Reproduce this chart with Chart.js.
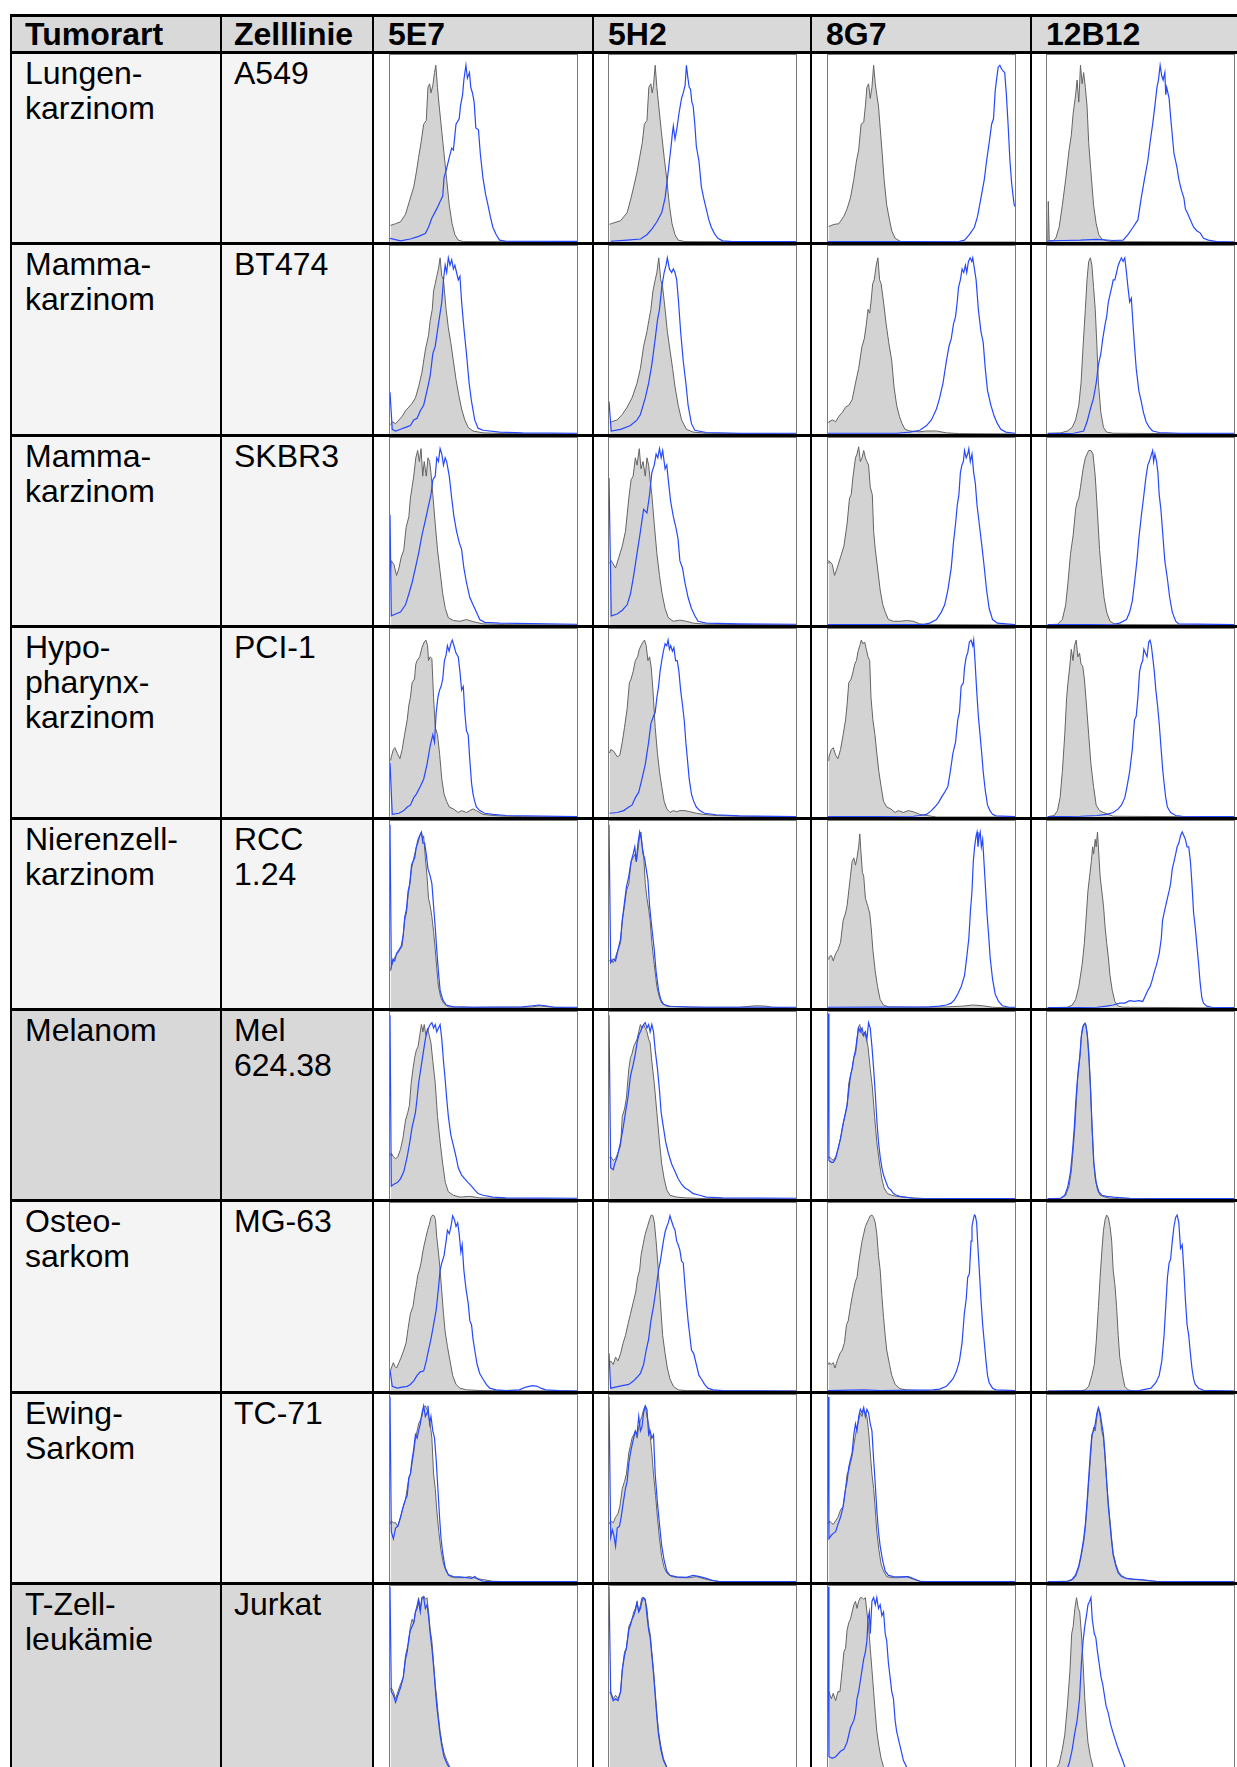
<!DOCTYPE html>
<html><head><meta charset="utf-8">
<script src="https://cdn.jsdelivr.net/npm/chart.js@4.4.1/dist/chart.umd.min.js"></script>
<style>
html,body{margin:0;padding:0;background:#fff;}
body{width:1237px;height:1767px;overflow:hidden;position:relative;font-family:"Liberation Sans",Arial,sans-serif;}
.box{position:absolute;box-sizing:border-box;}
.txt{position:absolute;font-size:32px;line-height:35px;color:#000;white-space:pre;}
.hdr{font-weight:bold;}
canvas{position:absolute;display:block;}
</style></head><body>
<script>
// ---------- table text ----------
const headerLabels = ["Tumorart", "Zelllinie"];
const antibodies = ["5E7", "5H2", "8G7", "12B12"];
const tumorTypes = ["Lungen-\nkarzinom","Mamma-\nkarzinom","Mamma-\nkarzinom","Hypo-\npharynx-\nkarzinom","Nierenzell-\nkarzinom","Melanom","Osteo-\nsarkom","Ewing-\nSarkom","T-Zell-\nleukämie"];
const cellLines = ["A549","BT474","SKBR3","PCI-1","RCC\n1.24","Mel\n624.38","MG-63","TC-71","Jurkat"];

// ---------- histogram values: [fluorescence position (% of axis), count (% of axis)] ----------
// iso = isotype control (grey filled), ab = antibody (blue line)
const iso_A549_5E7=[[0.3,8.9],[3,9.8],[5.6,10.8],[8.3,14.8],[10.9,23.6],[12.7,29.5],[14.1,37.4],[15.3,45.3],[16.6,53.1],[18,63],[19.4,65],[20.3,82.7],[21.2,84.6],[21.9,79.7],[22.9,83.7],[23.8,90.6],[24.5,94.5],[25.4,82.7],[26.3,72.8],[27.7,59],[28.9,47.2],[30.3,33.5],[31.7,19.7],[33.2,9.8],[34.7,3.9],[36.5,1],[39.2,0.2],[100,0]];
const ab_A549_5E7=[[0,2],[5.6,0.6],[10.9,1.6],[15.3,3],[18.9,4.5],[20.6,7.9],[22.4,12.8],[25,17.7],[26.8,21.7],[28.2,24.6],[28.9,34.4],[30.3,39.4],[31.7,45.3],[33,50.2],[33.9,49.2],[35.3,63],[37,65.9],[37.7,72.8],[38.8,78.7],[39.5,86.6],[40.6,94.5],[41.4,87.6],[42.5,90.6],[43.2,82.7],[44.1,79.7],[45,74.8],[45.9,61],[47.3,60],[48.3,47.2],[49.7,34.4],[51.1,25.6],[52.4,19.7],[53.6,13.8],[55,7.9],[56.8,3.9],[58.6,1],[62.1,0.4],[100,0.3]];
const iso_A549_5H2=[[0.3,9.5],[1.2,9.8],[6.2,11.4],[9.7,15.7],[11.8,23.6],[13.2,29.5],[15,37.4],[16.4,45.3],[17.8,53.1],[18.9,63],[20.3,65],[21.3,82.7],[22.4,84.6],[23.1,79.7],[23.8,83.7],[24.7,94.5],[25.6,82.7],[26.6,72.8],[28,59],[29.5,45.3],[30.9,33.5],[32.3,19.7],[33.7,9.8],[35.3,3.9],[37,1],[40.6,0.2],[100,0]];
const ab_A549_5H2=[[0.9,0.4],[9.7,1],[16.8,1.6],[20.3,3.9],[22.9,6.9],[25.6,10.8],[28.2,15.7],[30,23.6],[31.2,33.5],[32.3,43.3],[33.2,51.2],[33.9,58.1],[34.4,62],[35.3,55.1],[36.2,60],[37.6,69.9],[38.8,76.8],[39.7,79.7],[40.7,83.7],[41.4,94.5],[42.2,87.6],[42.9,82.7],[43.6,81.7],[44.3,74.8],[45,72.8],[45.9,63],[46.7,51.2],[48.1,43.3],[49.4,29.5],[50.6,23.6],[52,17.7],[53.4,11.8],[54.7,7.9],[56.4,4.5],[58.2,2],[60.8,0.6],[66,0.2],[100,0.2]];
const iso_A549_8G7=[[0.3,8.3],[3.2,9.4],[5.8,9.8],[8.5,13.8],[10.2,17.7],[12,23.6],[13.8,33.5],[15.2,43.3],[16.4,49.2],[17.7,63],[19.1,64],[20,72.8],[20.8,82.7],[21.7,84.6],[22.6,76.8],[23.5,82.7],[24.4,94.5],[25.3,84.6],[26.1,78.7],[27,72.8],[27.9,61],[29,47.2],[30,33.5],[31.4,19.7],[32.9,11.8],[34.1,5.9],[35.9,2],[38.5,0.4],[42,0],[100,0]];
const ab_A549_8G7=[[0,0.2],[70.3,0.4],[73,1],[75.6,3.9],[78.3,7.9],[80,13.8],[81.8,23.6],[83.6,33.5],[84.8,43.3],[86.2,53.1],[87.5,63],[88.5,65.9],[89.4,80.7],[90.1,86.6],[91,93.5],[91.9,94.5],[92.8,92.5],[93.6,91.5],[94.5,90.6],[95.4,78.7],[96.3,63],[97.3,43.3],[98.2,31.5],[99.1,23.6],[99.6,19.7],[100,19]];
const iso_A549_12B12=[[0.4,0],[0.7,21.7],[1.2,1],[3,0.4],[4.7,2],[6.5,7.9],[8.2,19.7],[10,33.5],[11.8,49.2],[13,57.1],[14,68.9],[15.3,78.7],[16.1,86.6],[17,74.8],[17.9,94.5],[18.8,84.6],[19.6,90.6],[20.5,82.7],[21.4,72.8],[22.3,53.1],[23.5,37.4],[24.9,19.7],[26.3,9.8],[27.7,3.9],[29.3,1.6],[31.9,0.6],[35.4,0.2],[100,0]];
const ab_A549_12B12=[[0.4,0.6],[9.1,0.8],[17.9,1],[26.7,1.4],[35.4,0.8],[40.7,1],[43.3,3.9],[46,7.9],[48.6,11.8],[50.4,23.6],[52.1,33.5],[53.9,43.3],[55.1,53.1],[56.5,63],[57.7,72.8],[58.8,82.7],[59.6,86.6],[60.5,94.5],[61.4,88.6],[62.1,86.6],[63,90.6],[63.5,78.7],[64,82.7],[65.3,76.8],[66.1,66.9],[67,57.1],[67.9,47.2],[68.8,43.3],[69.6,39.4],[70.5,33.5],[71.9,27.6],[73.2,23.6],[74,17.7],[75.4,14.8],[76.7,11.8],[78.4,7.9],[80.2,5.9],[81.9,4.9],[83.7,2],[86.3,1],[90.7,0.2],[100,0]];

const iso_BT474_5E7=[[0.3,5],[1.2,6.5],[3,5.5],[4.8,7.5],[6.5,9.4],[8.3,12.4],[10.1,14.3],[11.8,16.3],[13.6,19.2],[15.3,25.1],[17.1,32.9],[18.9,44.7],[20.6,52.5],[21.5,60.4],[22.6,66.3],[23.3,76.1],[24.2,80],[25,83.9],[25.9,87.8],[26.8,93.7],[27.7,83.9],[28.6,82],[30,66.3],[31.2,56.5],[32.5,48.6],[33.9,38.8],[35.3,29],[36.7,21.2],[38.3,13.3],[40,7.5],[41.8,3.5],[44.4,1.6],[49.7,0.6],[62,0.2],[100,0]];
const ab_BT474_5E7=[[0,22.2],[1.2,2.5],[3,1.6],[5.6,2.5],[8.3,3.5],[10.9,4.5],[12.7,7.5],[14.5,8.4],[16.2,12.4],[18,15.3],[19.8,23.1],[21.5,31],[22.9,42.7],[24.2,46.7],[25.9,58.4],[27.7,70.2],[28.6,82],[29.5,89.8],[30.3,85.9],[31.2,93.7],[32.1,89.8],[33,92.7],[33.9,87.8],[34.7,89.8],[35.6,85.9],[36.5,82],[37.4,83.9],[38.3,70.2],[39.5,56.5],[40.9,42.7],[42.3,27.1],[43.6,17.3],[45.3,7.5],[47.1,3.1],[49.7,2],[58.6,1],[70.9,0.6],[100,0.4]];
const iso_BT474_5H2=[[0.3,6],[1.2,6.5],[4.4,7.5],[7.1,10.4],[9.7,14.3],[12.3,19.2],[15,27.1],[16.8,34.9],[18.5,46.7],[20.3,54.5],[21.3,60.4],[22.4,66.3],[23.5,76.1],[24.7,82],[25.6,85.9],[26.6,93.7],[27.7,82],[28.7,78],[30,66.3],[31.2,54.5],[32.6,44.7],[34,34.9],[35.3,25.1],[37,15.3],[38.8,7.5],[41.4,2.5],[45,1],[52,0.4],[100,0]];
const ab_BT474_5H2=[[0,17.3],[1.2,1.6],[6.2,2.5],[11.5,4.5],[15,7.5],[16.8,10.4],[19.4,19.2],[21.2,27.1],[22.9,36.9],[24.7,50.6],[25.9,60.4],[27,66.3],[28.2,78],[29.5,85.9],[30.5,89.8],[31.2,93.7],[32.3,87.8],[33.5,85.9],[34.4,87.8],[35.3,85.9],[36.2,82],[37.2,70.2],[38.3,54.5],[39.7,38.8],[41.1,27.1],[42.3,15.3],[44.1,5.5],[45.9,2],[52,0.8],[69.7,0.4],[100,0.4]];
const iso_BT474_8G7=[[0.3,6],[0.5,6.5],[2.3,7.5],[4.1,6.5],[5.8,9.4],[7.6,11.4],[9.4,14.3],[11.1,15.3],[12.9,18.2],[14.7,27.1],[16.4,34.9],[18.2,46.7],[19.4,50.6],[20.5,58.4],[21.4,66.3],[22.3,64.3],[23,70.2],[23.9,80],[24.7,82],[25.8,89.8],[26.7,93.7],[27.6,82],[28.4,80],[29.7,70.2],[31.1,58.4],[32.5,48.6],[34.1,38.8],[35.3,25.1],[36.7,15.3],[38.2,9.4],[39.6,5.5],[41.2,2.5],[43.8,1.6],[49.1,1.2],[52.7,1.6],[58,1.6],[63.3,0.6],[70.3,0.2],[100,0]];
const ab_BT474_8G7=[[0,0.4],[36.7,0.4],[43.8,1],[49.1,2],[52.7,4.5],[55.3,7.5],[58,13.3],[59.7,19.2],[61.5,27.1],[63.3,38.8],[64.7,46.7],[65.9,50.6],[67.1,58.4],[68.2,62.4],[69.1,70.2],[69.8,78],[70.8,82],[71.7,87.8],[72.6,85.9],[73.5,89.8],[74.2,85.9],[75.1,91.8],[76,93.7],[76.9,91.8],[77.4,93.7],[78.3,87.8],[79.2,82],[80.4,66.3],[81.8,54.5],[83,48.6],[84.1,34.9],[85.3,23.1],[87.1,15.3],[88.9,9.4],[90.6,5.5],[92.4,2.5],[95.1,1],[100,0.4]];
const iso_BT474_12B12=[[0.4,0.4],[7.4,0.6],[10.9,1.6],[13.5,3.5],[15.3,7.5],[17,15.3],[18.2,27.1],[19.3,46.7],[20.5,66.3],[21.4,82],[22.3,91.8],[23.2,93.7],[24,89.8],[24.9,78],[25.8,66.3],[26.7,46.7],[27.5,27.1],[28.8,11.4],[30.2,3.5],[31.9,1],[35.4,0.4],[100,0]];
const ab_BT474_12B12=[[0.4,0.2],[14.4,0.4],[17.9,1.2],[19.6,1.6],[21.4,6.5],[23.2,13.3],[24.9,19.2],[26.3,27.1],[27.5,36.9],[28.8,42.7],[29.8,50.6],[31.1,58.4],[31.9,62.4],[32.8,70.2],[33.7,74.1],[34.6,78],[35.4,82],[36.3,82],[37.2,85.9],[38.1,89.8],[38.9,91.8],[39.8,93.7],[40.7,91.8],[41.6,93.7],[42.5,85.9],[43.3,78],[44.2,70.2],[45.1,72.2],[46,58.4],[46.8,46.7],[47.7,34.9],[49.1,23.1],[50.4,17.3],[51.6,11.4],[53,6.5],[54.7,3.5],[56.5,1.6],[60,0.8],[70.5,0.4],[100,0.4]];

const iso_SKBR3_5E7=[[0.3,30],[0.7,34.4],[2.1,32.4],[3.5,26.5],[4.8,30.5],[6,36.3],[7.4,40.3],[8.6,52.1],[10.1,58],[10.9,67.8],[11.8,73.7],[12.7,79.6],[13.8,89.4],[14.8,93.3],[15.7,87.4],[16.6,94.3],[17.5,79.6],[18.3,87.4],[19.4,79.6],[20.3,89.4],[21.2,87.4],[21.9,81.5],[22.9,69.7],[24.2,54],[25.4,40.3],[26.8,28.5],[28.2,16.7],[29.6,8.8],[31.2,3.9],[33.9,2.4],[37.4,2],[40.9,2.9],[44.4,1.8],[49.7,0.6],[62,0.2],[100,0]];
const ab_SKBR3_5E7=[[0,58.9],[0.7,4.9],[3,5.9],[5.6,6.9],[8.3,10.8],[10.1,16.7],[11.8,22.6],[13.6,30.5],[15.3,38.3],[17.1,48.1],[18.9,56],[20.6,63.9],[21.9,69.7],[22.9,77.6],[24.2,79.6],[25,89.4],[25.9,87.4],[26.8,94.3],[27.7,91.4],[28.6,85.5],[29.5,89.4],[30.3,87.4],[31.7,79.6],[33,67.8],[34.2,58],[35.6,50.1],[37,44.2],[38.3,40.3],[39.5,30.5],[40.9,22.6],[42.7,14.7],[44.4,10.8],[46.2,6.9],[48,2.9],[50.6,1.4],[58.6,1],[100,0.4]];
const iso_SKBR3_5H2=[[0.3,33],[1.2,34.4],[3.5,30.5],[5.3,36.3],[7.1,42.2],[8.8,50.1],[10.6,67.8],[11.8,77.6],[12.9,79.6],[14.1,89.4],[15,85.5],[16.2,94.3],[17.1,83.5],[18.2,87.4],[19.4,79.6],[20.3,89.4],[21.2,85.5],[22,77.6],[22.9,69.7],[24.2,54],[25.6,38.3],[27,26.5],[28.4,16.7],[30,8.8],[31.7,3.9],[34.4,2],[37.9,2.6],[41.4,2],[45,1],[52,0.4],[100,0]];
const ab_SKBR3_5H2=[[0,78.6],[1.2,4.9],[4.4,5.9],[7.1,7.9],[9.7,10.8],[11.5,16.7],[13.2,26.5],[15,38.3],[16.8,50.1],[18.5,61.9],[20.3,59.9],[21.7,69.7],[22.9,81.5],[24.2,85.5],[25.2,91.4],[26.1,89.4],[27,94.3],[27.9,89.4],[28.7,93.3],[30,83.5],[30.9,85.5],[31.7,77.6],[33,65.8],[34.4,58],[35.8,52.1],[36.9,46.2],[37.9,34.4],[39.3,30.5],[40.6,22.6],[42.3,14.7],[44.1,8.8],[45.9,4.9],[47.6,2],[52,1],[69.7,0.6],[100,0.4]];
const iso_SKBR3_8G7=[[0.3,33],[0.5,34.4],[2.3,32.4],[3.5,26.5],[4.9,30.5],[6.7,36.3],[8.5,42.2],[10.2,54],[11.5,67.8],[12.4,69.7],[13.4,79.6],[14.7,89.4],[15.5,91.4],[16.4,95.3],[17.3,87.4],[18.2,89.4],[19.1,93.3],[20,89.4],[20.8,87.4],[21.7,85.5],[22.6,73.7],[23.7,69.7],[24.4,50.1],[25.3,40.3],[26.5,30.5],[27.9,18.7],[29.3,10.8],[30.6,6.9],[32.3,2.9],[35,2],[38.5,2],[42,2.4],[45.6,2],[49.1,0.6],[54.4,0.2],[100,0]];
const ab_SKBR3_8G7=[[0,0.2],[50.9,0.2],[54.4,1],[58,2.9],[60.6,6.9],[62.4,10.8],[64.1,18.7],[65.9,30.5],[67.1,44.2],[68.2,54],[69.1,63.9],[70,69.7],[70.8,81.5],[71.6,85.5],[72.4,87.4],[73,93.3],[73.9,89.4],[74.7,91.4],[75.3,94.3],[76.1,87.4],[77,91.4],[77.9,81.5],[78.8,75.6],[79.7,63.9],[80.9,54],[82.3,42.2],[83.6,30.5],[84.8,18.7],[86.2,8.8],[88,2.9],[90.6,1],[100,0.2]];
const iso_SKBR3_12B12=[[0.4,0.2],[5.6,0.4],[8.2,2.9],[10,10.8],[11.2,22.6],[12.6,38.3],[14,48.1],[15.3,61.9],[16.1,65.8],[17,67.8],[17.9,73.7],[19.3,83.5],[20.5,89.4],[21.4,91.4],[22.3,93.3],[23.5,93.3],[24.6,91.4],[25.8,79.6],[27,59.9],[28.1,40.3],[29.3,26.5],[30.5,14.7],[31.9,6.9],[33.7,2],[36.3,0.4],[40.7,0.2],[100,0]];
const ab_SKBR3_12B12=[[0.4,0.2],[35.4,0.4],[38.9,1],[42.5,2.9],[44.2,6.9],[45.6,12.8],[46.8,22.6],[48.1,34.4],[49.1,46.2],[50.4,58],[51.6,67.8],[52.5,75.6],[53,79.6],[53.9,85.5],[54.7,87.4],[55.6,90.4],[56.5,93.3],[57,87.4],[57.7,91.4],[58.6,87.4],[59.3,81.5],[60,69.7],[60.9,61.9],[61.8,50.1],[63,34.4],[64.4,24.6],[65.6,14.7],[67,6.9],[68.8,2],[70.5,0.6],[100,0.2]];

const iso_PCI1_5E7=[[0.3,30],[0.7,32],[1.8,35.9],[2.6,36.9],[3.9,33.9],[5.3,31],[6.5,35.9],[7.8,43.8],[9.2,51.7],[10.1,59.6],[10.9,63.5],[11.8,71.4],[13.1,73.4],[13.8,81.3],[14.5,83.2],[15.9,85.2],[17.1,90.1],[18.3,93.1],[19.2,94.1],[20.1,91.1],[20.6,83.2],[21.5,85.2],[22.4,84.2],[23.3,63.5],[24.2,47.7],[25.4,43.8],[26.5,33.9],[27.7,20.1],[28.9,12.2],[30.3,8.3],[31.7,5.3],[33.9,4.3],[36.5,2.4],[38.3,3.4],[40.9,2.4],[42.7,3.4],[44.4,4.3],[46.2,3.4],[49.7,1.4],[55,0.8],[62.1,0.4],[70.9,0.2],[100,0]];
const ab_PCI1_5E7=[[0,29],[1.2,1.4],[4.8,2],[7.4,3.4],[9.2,5.3],[10.9,6.3],[12.7,10.3],[14.1,12.2],[16.2,16.2],[18,20.1],[19.8,28],[21.5,37.9],[22.9,43.8],[23.8,39.8],[24.7,55.6],[25.6,63.5],[26.5,67.5],[27.3,69.4],[28.2,73.4],[29.1,83.2],[30,86.2],[30.7,91.1],[31.6,88.2],[32.5,92.1],[33.3,94.1],[34.2,91.1],[35.3,87.2],[36.5,85.2],[37.4,77.3],[38.3,67.5],[39.2,69.4],[40,55.6],[40.9,45.8],[41.8,43.8],[42.7,30],[43.6,18.1],[44.4,12.2],[45.3,8.3],[46.2,5.3],[48,3.4],[50.6,2],[55,1.4],[62.1,0.8],[100,0.2]];
const iso_PCI1_5H2=[[0.3,34],[0.9,35.9],[2.6,34.9],[4.4,32],[5.8,32.9],[7.1,39.8],[8.3,47.7],[9.7,57.6],[10.9,71.4],[11.8,73.4],[12.9,77.3],[14.1,83.2],[15.3,85.2],[16.2,89.2],[17.1,91.1],[18.2,93.1],[19,94.1],[19.9,91.1],[20.8,83.2],[21.7,85.2],[22.6,79.3],[23.5,67.5],[24.7,47.7],[25.9,33.9],[27,24.1],[28.2,16.2],[29.5,8.3],[30.9,4.3],[32.6,2.4],[34.4,3.4],[36.2,2.8],[37.9,3.4],[40.6,3.4],[43.2,2.8],[46.7,2],[50.3,1.4],[57.3,0.8],[69.7,0.4],[100,0]];
const ab_PCI1_5H2=[[0.3,2],[4.4,2.4],[7.9,3.4],[10.6,5.3],[12.3,6.3],[14.1,10.3],[15.9,13.2],[17.6,20.1],[19.4,28],[21.2,39.8],[22.4,49.7],[23.8,53.6],[24.7,55.6],[25.6,63.5],[26.5,69.4],[27.3,77.3],[28.2,83.2],[29.1,88.2],[30,92.1],[30.9,91.1],[31.6,94.1],[32.3,89.2],[33,91.1],[33.9,88.2],[34.7,90.1],[35.6,83.2],[36.5,83.2],[37.4,77.3],[38.3,67.5],[39.3,59.6],[40.2,51.7],[41.1,39.8],[42,30],[42.9,20.1],[44.1,12.2],[45.3,8.3],[46.7,5.3],[48.5,3.4],[51.1,2],[57.3,1.2],[69.7,0.6],[100,0.2]];
const iso_PCI1_8G7=[[0.3,30],[0.5,32],[1.8,35.9],[2.8,36.9],[4.1,32.9],[5.3,31],[6.7,35.9],[8.1,43.8],[9.4,51.7],[10.2,59.6],[11.1,71.4],[12.4,73.4],[13.4,77.3],[14.3,81.3],[15.2,83.2],[16.1,88.2],[17,91.1],[17.8,94.1],[18.7,92.1],[19.6,93.1],[20.5,89.2],[21.4,85.2],[22.3,83.2],[23,63.5],[24,51.7],[25.1,43.8],[26.1,33.9],[27.2,24.1],[28.4,16.2],[29.7,8.3],[31.4,5.3],[33.6,4.3],[35.9,2.4],[37.6,3.4],[40.3,2.4],[42.9,3.4],[45.6,2.8],[49.1,1.4],[52.7,0.8],[58,0],[100,0]];
const ab_PCI1_8G7=[[0,0.2],[45.6,0.4],[49.1,0.8],[52.7,1.4],[55.3,3.4],[57.1,5.3],[58.8,7.3],[60.6,10.3],[62.4,13.2],[64.1,16.2],[65.4,24.1],[66.8,33.9],[68.2,39.8],[69.4,51.7],[70.3,55.6],[71.2,69.4],[72.4,71.4],[73,79.3],[73.9,85.2],[74.7,87.2],[75.6,93.1],[76.5,94.1],[77.4,91.1],[77.9,94.1],[78.6,83.2],[79.5,67.5],[80.4,53.6],[81.3,43.8],[82.2,33.9],[83,24.1],[84.1,14.2],[85.3,6.3],[86.6,3.4],[88,1.4],[89.8,0.6],[100,0.2]];
const iso_PCI1_12B12=[[0.4,0.2],[3.9,0.8],[5.6,3.4],[7,10.3],[8.2,24.1],[9.5,43.8],[10.5,63.5],[11.2,71.4],[12.1,79.3],[13,89.2],[13.9,83.2],[14.7,91.1],[15.6,94.1],[16.5,85.2],[17.4,87.2],[18.2,81.3],[19.1,80.3],[20,73.4],[21.1,59.6],[22.3,43.8],[23.5,28],[24.9,16.2],[26.3,6.3],[28.1,3.4],[30.2,2.4],[32.8,1.4],[35.4,0.4],[100,0]];
const ab_PCI1_12B12=[[0.4,0.2],[17.9,0.4],[26.7,0.8],[31.9,1.4],[35.4,2.4],[38.1,4.3],[39.8,6.3],[41.6,10.3],[42.8,16.2],[44.2,24.1],[45.6,35.9],[46.8,51.7],[47.7,53.6],[48.6,63.5],[49.5,77.3],[50.4,81.3],[51.2,83.2],[51.8,89.2],[52.6,87.2],[53.5,85.2],[54.4,93.1],[55.1,94.1],[55.8,91.1],[56.5,85.2],[57.4,77.3],[58.2,67.5],[59.1,59.6],[60,49.7],[60.9,37.9],[61.8,26],[62.6,18.1],[63.5,10.3],[64.4,5.3],[66.1,2.4],[68.8,0.8],[72.3,0.4],[100,0.2]];

const iso_RCC_5E7=[[0.3,20],[0.7,22.2],[1.8,25.2],[2.6,27.2],[3.9,29.1],[5.3,31.1],[6.5,33.1],[7.8,46.9],[8.8,50.8],[9.7,60.6],[10.6,66.5],[11.5,74.4],[12.3,78.3],[13.2,82.3],[14.1,86.2],[15,88.2],[15.9,92.1],[16.8,94.1],[17.5,90.2],[18,92.1],[18.9,80.3],[19.8,70.5],[20.6,58.7],[21.5,54.7],[22.4,48.8],[23.3,40.9],[24.2,31.1],[25,21.3],[25.9,11.4],[27.2,5.5],[28.6,2.6],[31.2,0.6],[44.4,0.4],[70.9,0.4],[76.2,0.6],[79.7,1.2],[83.2,0.8],[87.7,0.4],[100,0]];
const ab_RCC_5E7=[[0,98],[0.7,22.2],[1.6,26.2],[2.5,25.2],[3.5,29.1],[4.8,31.1],[6,33.1],[7.1,39],[7.9,48.8],[8.8,52.8],[9.7,62.6],[10.6,66.5],[11.5,76.4],[12.3,78.3],[13.2,80.3],[14.1,86.2],[15,90.2],[15.9,92.1],[16.8,94.1],[17.6,88.2],[18.5,88.2],[19.4,82.3],[20.3,74.4],[21.5,70.5],[22.4,66.5],[23.3,54.7],[24.2,42.9],[25,31.1],[25.9,19.3],[26.8,9.4],[28.2,4.5],[30,1.6],[33.9,0.6],[44.4,0.4],[70.9,0.6],[76.2,1.2],[79.7,1.6],[83.2,1.2],[87.7,0.4],[100,0.4]];
const iso_RCC_5H2=[[0.3,25],[0.9,26.2],[2.3,24.2],[3.5,27.2],[4.8,31.1],[6.2,35],[7.1,46.9],[8.3,54.7],[9.3,62.6],[10.6,66.5],[11.8,78.3],[12.9,80.3],[13.8,82.3],[14.6,78.3],[15.5,84.3],[16.4,92.1],[17.1,94.1],[17.8,86.2],[18.5,82.3],[19.4,66.5],[20.3,58.7],[21.2,52.8],[22,46.9],[22.9,35],[24.2,23.2],[25.6,11.4],[27,5.5],[28.2,2.6],[30.9,1],[43.2,0.4],[69.7,0.4],[78.5,1.2],[83.8,1],[87.3,0.4],[100,0]];
const ab_RCC_5H2=[[0,98],[0.9,24.2],[2.3,26.2],[3.5,25.2],[4.8,31.1],[6.2,37],[7.1,46.9],[8.3,56.7],[9.3,64.6],[10.6,70.5],[11.8,78.3],[12.9,82.3],[13.8,86.2],[14.6,78.3],[15.5,88.2],[16.4,94.1],[17.3,90.2],[18.2,82.3],[19,80.3],[19.9,74.4],[20.8,68.5],[21.7,54.7],[22.9,42.9],[24.2,31.1],[25.2,19.3],[26.5,9.4],[27.7,4.5],[29.1,2],[32.6,0.8],[52,0.4],[100,0.4]];
const iso_RCC_8G7=[[0.3,26],[0.5,27.2],[1.8,28.1],[2.8,25.2],[4.1,29.1],[5.3,31.1],[6.7,35],[8.1,46.9],[9.4,50.8],[10.2,54.7],[11.1,62.6],[12,70.5],[12.9,78.3],[13.8,80.3],[14.7,76.4],[15.5,80.3],[16.4,86.2],[17,93.1],[17.7,82.3],[18.4,72.4],[19.1,70.5],[20,58.7],[21.2,54.7],[22.3,50.8],[23.1,42.9],[24,31.1],[25.3,19.3],[26.5,11.4],[27.9,4.5],[29.7,1.6],[32.3,0.6],[45.6,0.4],[63.3,0.6],[72.1,1],[77.4,1.6],[82.7,1.2],[88,0.4],[100,0]];
const ab_RCC_8G7=[[0,0.4],[54.4,0.6],[59.7,1],[63.3,1.6],[65.9,2.6],[67.7,4.5],[69.4,7.5],[71.2,11.4],[73,17.3],[74.2,27.2],[75.3,37],[76.1,50.8],[77,62.6],[77.7,78.3],[78.4,86.2],[79.2,92.1],[79.7,94.1],[80.2,86.2],[80.9,92.1],[81.4,94.1],[82,86.2],[82.7,90.2],[83.4,78.3],[84.1,66.5],[85,50.8],[85.9,39],[86.7,27.2],[88,15.4],[89.4,7.5],[91.2,3.5],[93.3,1.2],[96.8,0.4],[100,0.4]];
const iso_RCC_12B12=[[0.4,0.2],[10.9,0.4],[13.5,1.6],[15.3,4.5],[17,11.4],[18.8,23.2],[20,35],[21.1,50.8],[21.9,62.6],[22.8,70.5],[23.7,78.3],[24.4,86.2],[24.9,82.3],[25.8,90.2],[26.3,86.2],[27,94.1],[27.7,82.3],[28.4,70.5],[29.3,62.6],[30.2,54.7],[31.1,42.9],[31.9,35],[32.8,27.2],[33.7,17.3],[34.9,9.4],[36.3,3.5],[38.1,1],[40.7,0.4],[100,0]];
const ab_RCC_12B12=[[0.4,0.2],[26.7,0.4],[31.9,1],[35.4,1.6],[38.9,2.6],[41.6,2.6],[44.2,3.9],[46.8,3.5],[49.1,3.9],[51.2,3.5],[52.6,6.5],[53.9,9.4],[55.1,11.4],[56.1,14.4],[57.4,19.3],[58.6,23.2],[60,29.1],[61.1,37],[61.8,46.9],[62.6,50.8],[63.5,54.7],[64.4,58.7],[65.3,62.6],[66.1,66.5],[67,74.4],[67.9,78.3],[68.8,82.3],[69.6,86.2],[70.5,88.2],[71.4,92.1],[72.3,94.1],[73.2,92.1],[74,90.2],[74.9,86.2],[75.8,86.2],[76.7,78.3],[77.5,66.5],[78.4,50.8],[79.3,42.9],[80.2,33.1],[81.1,23.2],[81.9,13.4],[82.8,5.5],[83.7,2.6],[85.4,1],[88.1,0.4],[100,0.2]];

const iso_MEL_5E7=[[0.3,23],[0.7,24.6],[1.8,22.6],[3,21.6],[4.2,22.6],[5.6,26.5],[6.9,32.4],[8.3,42.2],[9.5,46.2],[10.4,50.1],[11.3,61.9],[12.3,69.7],[13.2,75.6],[14.1,79.6],[15,81.5],[15.9,87.4],[16.8,93.3],[17.6,89.4],[18.3,93.3],[19.2,87.4],[20.1,91.4],[21,87.4],[21.9,83.5],[22.9,73.7],[24.2,61.9],[25.4,44.2],[26.8,30.5],[28.2,18.7],[29.6,8.8],[31.2,3.9],[33.9,2],[37.4,1],[42.7,1.4],[48,0.6],[62,0.2],[100,0]];
const ab_MEL_5E7=[[0,98.2],[0.7,6.9],[2.1,7.9],[3.9,8.8],[5.6,10.8],[7.4,14.7],[9.2,22.6],[10.6,30.5],[11.8,38.3],[12.7,42.2],[13.6,46.2],[14.5,54],[15.3,61.9],[16.2,67.8],[17.1,73.7],[18,79.6],[18.9,85.5],[19.8,89.4],[20.6,91.4],[21.5,93.3],[22.4,94.3],[23.3,91.4],[24.2,93.3],[25,89.4],[25.9,91.4],[26.8,93.3],[27.7,85.5],[28.6,73.7],[29.5,63.9],[30.3,54],[31.2,44.2],[32.5,34.4],[33.9,28.5],[35.3,22.6],[36.5,16.7],[38.3,12.8],[40,10.8],[41.8,8.8],[43.6,6.9],[45.3,4.9],[47.1,2.9],[49.7,2],[55,1],[62,0.6],[100,0.4]];
const iso_MEL_5H2=[[0.3,22],[0.9,22.6],[2.3,20.6],[3.5,21.6],[4.8,24.6],[6.2,28.5],[7.1,44.2],[8.3,48.1],[9.3,54],[10.6,69.7],[11.5,75.6],[12.3,77.6],[13.2,81.5],[14.1,83.5],[15,85.5],[15.9,89.4],[16.8,93.3],[17.6,91.4],[18.5,93.3],[19.4,91.4],[20.3,89.4],[21.2,85.5],[22,83.5],[22.9,73.7],[24.2,61.9],[25.6,46.2],[27,30.5],[28.2,18.7],[29.5,10.8],[30.9,4.9],[32.6,2],[36.2,1],[41.4,0.6],[52,0.2],[100,0]];
const ab_MEL_5H2=[[0,98.2],[0.9,16.7],[2.3,15.7],[3,18.7],[4.4,22.6],[6.2,30.5],[7.6,38.3],[8.8,46.2],[10.1,54],[11.5,65.8],[12.9,71.7],[14.1,77.6],[15,83.5],[15.9,87.4],[16.8,89.4],[17.6,91.4],[18.5,93.3],[19.4,94.3],[20.3,91.4],[21.2,93.3],[22,89.4],[22.9,93.3],[23.8,89.4],[24.7,79.6],[25.9,69.7],[27,58],[27.9,46.2],[29.1,38.3],[30.3,30.5],[31.7,24.6],[33.5,18.7],[35.3,14.7],[37,10.8],[38.8,7.9],[40.6,5.9],[42.3,4.9],[45,2.9],[48.5,2],[52,1],[60.8,0.6],[100,0.4]];
const iso_MEL_8G7=[[0.3,22],[0.5,22.6],[1.8,21.6],[2.8,20.6],[4.1,22.6],[5.3,26.5],[6.7,32.4],[8.1,40.3],[9.4,46.2],[10.2,50.1],[11.1,61.9],[12,65.8],[12.9,69.7],[13.8,75.6],[14.7,77.6],[15.2,81.5],[16.1,91.4],[17,93.3],[17.8,89.4],[18.7,87.4],[19.6,89.4],[20.5,85.5],[21.4,81.5],[22.6,69.7],[23.7,59.9],[24.9,44.2],[26.1,30.5],[27.6,18.7],[28.8,10.8],[30,5.9],[31.8,2.9],[34.1,2],[36.7,1.4],[40.3,1],[45.6,0.6],[52.7,0.2],[100,0]];
const ab_MEL_8G7=[[0,99.2],[0.5,20.6],[1.8,19.6],[2.8,19.6],[4.1,21.6],[5.3,26.5],[6.7,32.4],[8.1,40.3],[9.4,46.2],[10.2,50.1],[11.1,58],[12,65.8],[12.9,69.7],[13.8,75.6],[14.7,79.6],[15.5,85.5],[16.4,91.4],[17.3,89.4],[18.2,91.4],[19.1,87.4],[20,89.4],[20.8,85.5],[21.7,94.3],[22.6,91.4],[23.5,81.5],[24.4,69.7],[25.3,56],[26.1,42.2],[27,30.5],[27.9,22.6],[28.8,16.7],[29.7,12.8],[31.1,8.8],[32.3,5.9],[33.6,4.9],[35,2.9],[36.7,2],[38.5,1.4],[41.2,1],[45.6,0.4],[100,0.2]];
const iso_MEL_12B12=[[0.4,0.2],[7.4,0.4],[10,2],[11.8,6.9],[13,14.7],[14,26.5],[14.9,38.3],[15.8,54],[16.5,65.8],[17.4,73.7],[18.2,85.5],[18.9,91.4],[19.6,93.3],[20.5,94.3],[21.4,89.4],[22.3,79.6],[23.2,61.9],[24,40.3],[24.9,20.6],[25.8,10.8],[27,4.9],[28.4,2],[31.1,1],[33.7,0.4],[38.9,0.2],[100,0]];
const ab_MEL_12B12=[[0.4,0.2],[7.4,0.4],[9.5,2],[11.2,6.9],[12.6,14.7],[13.7,26.5],[14.6,38.3],[15.4,52.1],[16.1,61.9],[16.8,69.7],[17.7,77.6],[18.4,87.4],[19.3,92.3],[20,93.7],[20.7,93.3],[21.6,87.4],[22.5,73.7],[23.3,58],[24.2,36.3],[25.1,18.7],[26.3,8.8],[27.7,3.9],[29.3,2],[31.9,1.4],[35.4,1],[44.2,0.4],[100,0.2]];

const iso_MG63_5E7=[[0.3,11],[0.7,12.2],[1.8,15.1],[2.6,13.1],[3.5,12.2],[4.8,15.1],[6,18],[7.4,21.8],[8.6,25.7],[9.7,33.4],[10.9,41.1],[12.3,45],[13.4,52.7],[14.1,56.6],[14.8,61.4],[15.7,64.3],[16.6,68.1],[17.5,73.9],[18.3,77.8],[19.2,81.7],[20.1,85.5],[21,88.4],[21.9,92.3],[22.8,93.6],[23.6,93.2],[24.3,91.3],[25,81.7],[25.9,73.9],[26.8,64.3],[27.7,52.7],[28.6,41.1],[29.5,31.5],[30.7,23.7],[32.1,16],[33.5,8.3],[35.3,3.5],[37.4,1.5],[40.9,0.6],[49.7,0.2],[100,0]];
const ab_MG63_5E7=[[0,11.2],[1.2,2.5],[3.9,1.5],[6.5,2.1],[9.2,2.5],[10.9,3.5],[12.7,5.4],[14.5,8.3],[16.2,10.2],[18,10.6],[19.4,16],[20.6,21.8],[21.9,27.6],[23.3,35.3],[24.7,43.1],[25.9,54.6],[26.8,64.3],[27.7,68.1],[28.9,72],[30,79.7],[30.7,85.5],[31.7,83.6],[32.6,87.5],[33.5,93.2],[34.4,91.3],[35.3,87.5],[36.2,89.4],[37,83.6],[37.9,73.9],[38.6,77.8],[39.5,64.3],[40.6,54.6],[41.8,46.9],[42.7,37.3],[43.6,35.3],[44.4,27.6],[45.3,21.8],[46.6,14.1],[48,9.3],[49.7,6.4],[51.5,3.5],[53.3,1.5],[56.8,0.6],[62.1,0.2],[69.1,0.6],[72.7,2.1],[76.2,2.9],[78.8,2.5],[80.6,1.5],[83.2,0.6],[90.3,0.2],[100,0]];
const iso_MG63_5H2=[[0.3,15],[0.9,16],[2.3,14.1],[3.5,18],[4.8,16],[6.2,19.9],[7.6,25.7],[8.8,29.5],[10.1,35.3],[11.5,41.1],[12.9,46.9],[14.3,52.7],[15.3,60.4],[16.4,64.3],[17.1,72],[18.2,77.8],[19.4,83.6],[20.6,87.5],[21.7,91.3],[22.6,93.6],[23.5,93.2],[24.3,89.4],[25.2,79.7],[26.1,68.1],[27,54.6],[27.9,41.1],[28.7,29.5],[30,19.9],[31.2,12.2],[32.6,6.4],[34.4,2.5],[37,0.6],[41.4,0.2],[100,0]];
const ab_MG63_5H2=[[0,19.9],[0.9,1.5],[3.5,2.1],[7.1,2.9],[10.6,3.5],[13.2,5.4],[15,7.3],[16.8,9.3],[18.5,14.1],[19.9,21.8],[21.2,27.6],[22.4,37.3],[23.8,45],[25.2,54.6],[26.5,64.3],[27.3,68.1],[28.2,73.9],[29.1,79.7],[30,84.6],[30.9,87.5],[31.7,89.4],[32.6,93.2],[33.5,90.3],[34.4,87.5],[35.3,85.5],[36.2,79.7],[37,77.8],[37.9,74.9],[38.8,69.1],[39.7,68.1],[40.6,56.6],[41.4,46.9],[42.3,37.3],[43.2,29.5],[44.1,21.8],[45.3,19.9],[46.7,14.1],[48.1,8.3],[49.4,6.4],[51.1,3.5],[52.9,1.5],[55.6,0.6],[60.8,0.2],[100,0]];
const iso_MG63_8G7=[[0.3,14],[0.5,15.1],[1.8,14.1],[2.8,15.1],[3.7,12.2],[4.9,16],[6.4,19.9],[7.6,21.8],[8.8,25.7],[9.9,35.3],[10.8,37.3],[12,45],[13.4,52.7],[14.7,58.5],[15.5,60.4],[16.4,68.1],[17.3,73.9],[18.2,79.7],[19.1,83.6],[20,87.5],[20.8,89.4],[21.7,91.3],[22.6,93.2],[23.5,93.6],[24.4,92.3],[25.3,89.4],[26.1,83.6],[27,72],[27.9,64.3],[28.8,50.8],[29.7,39.2],[30.6,29.5],[31.4,21.8],[32.9,14.1],[34.1,8.3],[35.9,3.5],[38.5,1.2],[42,0.6],[49.1,0.2],[100,0]];
const ab_MG63_8G7=[[0,0.2],[19.1,0.6],[27.9,0.2],[56.2,0.6],[59.7,1],[63.3,2.5],[65,4.4],[66.8,6.4],[68.6,10.2],[70.3,16],[71.7,25.7],[72.9,41.1],[73.9,48.8],[74.7,60.4],[75.6,62.4],[76.5,79.7],[77,87.5],[77.7,91.3],[78.3,93.6],[78.8,93.2],[79.5,89.4],[80,79.7],[80.9,64.3],[81.8,48.8],[82.7,35.3],[83.6,25.7],[84.5,16],[85.3,8.3],[86.2,4.4],[88,1.5],[89.8,0.6],[100,0.2]];
const iso_MG63_12B12=[[0.4,0],[17.9,0.2],[20.5,0.6],[22.3,2.5],[24,8.3],[25.3,14.1],[26.3,25.7],[27.5,45],[28.4,60.4],[29.3,73.9],[30.2,85.5],[31.1,91.3],[31.9,93.6],[32.8,92.3],[33.7,87.5],[34.6,79.7],[35.4,64.3],[36.3,56.6],[37.2,45],[38.1,29.5],[38.9,18],[40.4,8.3],[41.6,2.5],[43.3,0.6],[46,0],[100,0]];
const ab_MG63_12B12=[[0.4,0],[49.5,0.2],[53,1],[55.6,1.5],[58.2,4.4],[60,8.3],[61.4,16],[62.6,29.5],[63.5,45],[64.4,60.4],[65.3,68.1],[66.1,70.1],[67,79.7],[67.9,87.5],[68.8,92.3],[69.6,93.6],[70.5,89.4],[71.4,75.9],[72.3,77.8],[73.2,64.3],[74,48.8],[74.9,35.3],[75.8,29.5],[76.7,19.9],[77.5,12.2],[78.4,6.4],[79.3,3.5],[81.1,1.5],[83.7,0.4],[100,0]];

const iso_TC71_5E7=[[0.3,31],[0.7,32.7],[1.8,31.7],[3,31.7],[4.2,29.8],[5.6,34.6],[7.1,40.4],[8.3,44.2],[9.2,50],[10.1,55.8],[10.9,57.7],[11.8,63.5],[12.7,69.2],[13.6,76.9],[14.5,80.8],[15.3,84.6],[16.2,86.5],[17.1,88.5],[18,93.3],[18.9,94.2],[19.8,92.3],[20.6,88.5],[21.5,84.6],[22.4,76.9],[23.3,57.7],[24.2,50],[25,38.5],[26.1,26.9],[27.2,17.3],[28.6,9.6],[30,5.8],[32.1,2.9],[34.7,2.3],[39.2,2.3],[42.7,2.9],[46.2,1.9],[49.7,1.3],[55,0.4],[62,0.2],[100,0]];
const ab_TC71_5E7=[[0,99],[0.7,26.9],[1.8,23.1],[3,28.8],[4.2,29.8],[5.6,34.6],[7.1,40.4],[8.3,44.2],[9.2,46.2],[10.1,55.8],[10.9,57.7],[11.8,65.4],[12.7,71.2],[13.6,78.8],[14.5,76.9],[15.3,80.8],[16.2,84.6],[17.1,90.4],[18,94.2],[18.9,88.5],[19.8,90.4],[20.3,94.2],[21.2,84.6],[21.9,88.5],[22.9,80.8],[23.8,76.9],[24.7,65.4],[25.6,50],[26.5,34.6],[27.3,23.1],[28.2,15.4],[29.5,7.7],[31.2,3.8],[33.9,2.9],[37.4,2.7],[40.9,2.3],[43.6,1.9],[45.3,2.9],[47.1,1.5],[49.7,0.4],[55,0.2],[100,0.2]];
const iso_TC71_5H2=[[0.3,31],[0.9,32.7],[2.3,31.7],[3.5,34.6],[4.8,36.5],[5.8,40.4],[7.1,50],[8.3,53.8],[9.3,57.7],[10.6,69.2],[11.5,73.1],[12.3,76.9],[13.2,78.8],[14.1,80.8],[15,76.9],[15.9,82.7],[16.8,86.5],[17.6,88.5],[18.5,92.3],[19.4,94.2],[20.3,88.5],[21.2,84.6],[22,78.8],[22.9,69.2],[23.8,57.7],[24.9,46.2],[25.9,34.6],[27,23.1],[28.2,13.5],[29.5,7.7],[30.9,4.8],[33.5,2.9],[37.9,2.3],[43.2,2.3],[46.7,2.9],[50.3,1.9],[53.8,1],[59.1,0.2],[100,0]];
const ab_TC71_5H2=[[0,99],[0.9,24],[1.8,27.9],[2.6,25],[3.5,19.2],[4.4,28.8],[5.6,29.8],[6.5,34.6],[7.6,42.3],[8.8,50],[9.7,53.8],[10.6,63.5],[11.5,69.2],[12.3,73.1],[13.2,76.9],[14.1,80.8],[15,78.8],[15.9,88.5],[16.8,80.8],[17.6,82.7],[18.5,90.4],[19.4,94.2],[20.3,92.3],[21.2,78.8],[22,80.8],[22.9,76.9],[23.8,78.8],[24.7,57.7],[25.9,42.3],[27,30.8],[28.2,19.2],[29.5,11.5],[30.9,5.8],[32.6,3.5],[36.2,2.7],[41.4,2.5],[45,3.5],[48.5,2.9],[52,1.9],[55.6,0.8],[59.1,0.2],[100,0.2]];
const iso_TC71_8G7=[[0.3,31],[0.5,32.7],[1.8,31.7],[2.8,30.8],[4.1,32.7],[5.3,34.6],[6.7,38.5],[8.1,40.4],[9.4,50],[10.2,57.7],[11.1,59.6],[12,63.5],[12.9,67.3],[13.8,73.1],[14.7,78.8],[15.5,82.7],[16.4,86.5],[17.3,90.4],[18.2,88.5],[19.1,92.3],[20,90.4],[20.8,88.5],[21.7,80.8],[22.6,69.2],[23.5,57.7],[24.4,50],[25.3,38.5],[26.1,26.9],[27.2,17.3],[28.4,9.6],[29.7,5.8],[31.4,2.9],[34.1,2.3],[37.6,2.3],[42,2.9],[45.6,1.5],[49.1,0.4],[54.4,0.2],[100,0]];
const ab_TC71_8G7=[[0,99],[0.5,23.1],[1.8,25],[2.8,26],[4.1,26.9],[5.3,30.8],[6.7,34.6],[8.1,40.4],[9.4,50],[10.2,53.8],[11.1,61.5],[12,65.4],[12.9,69.2],[13.8,78.8],[14.7,84.6],[15.5,80.8],[16.4,88.5],[17.3,92.3],[18.2,90.4],[19.1,93.3],[20,88.5],[20.8,92.3],[21.7,90.4],[22.6,84.6],[23.5,80.8],[24.4,65.4],[25.3,51.9],[26.1,38.5],[27,26.9],[27.9,19.2],[29.2,11.5],[30.6,5.8],[32.3,3.5],[35,2.9],[38.5,2.7],[42.9,2.9],[45.6,1.9],[49.1,0.4],[54.4,0.2],[100,0.2]];
const iso_TC71_12B12=[[0.4,0.2],[10.9,0.4],[13.5,1],[15.3,2.9],[17,7.7],[18.2,13.5],[19.6,21.2],[20.5,28.8],[21.4,40.4],[22.3,53.8],[23.2,65.4],[24,76.9],[24.9,82.7],[25.8,80.8],[26.7,88.5],[27.5,93.3],[28.4,88.5],[29.3,80.8],[30.2,76.9],[31.1,65.4],[31.9,53.8],[32.8,42.3],[33.7,32.7],[34.6,23.1],[35.4,15.4],[36.8,9.6],[38.1,5.8],[39.8,3.5],[42.5,1.9],[46,1.5],[51.2,1],[56.5,0.4],[61.8,0.2],[100,0]];
const ab_TC71_12B12=[[0.4,0.2],[10.9,0.4],[13.5,1.5],[15.3,3.8],[17,8.7],[18.2,14.4],[19.6,23.1],[20.5,30.8],[21.4,42.3],[22.3,55.8],[23.2,69.2],[24,78.8],[24.9,80.8],[25.8,84.6],[26.7,90.4],[27.5,93.3],[28.4,90.4],[29.3,84.6],[30.2,78.8],[31.1,67.3],[31.9,53.8],[32.8,40.4],[33.7,30.8],[34.6,21.2],[35.4,14.4],[36.8,8.7],[38.1,4.8],[39.8,2.9],[42.5,1.9],[46,1.5],[51.2,1.2],[58.2,0.4],[100,0.2]];

const iso_JURKAT_5E7=[[0.3,45],[0.7,45.8],[1.8,43.8],[3,40],[4.2,43.8],[5.6,47.7],[7.1,51.5],[8.3,63.1],[9.2,66.9],[10.1,70.8],[10.9,78.5],[11.8,82.3],[12.7,80.4],[13.6,86.2],[14.5,90],[15.3,93.8],[16.2,88.1],[17.1,93.8],[18,94.8],[18.9,92.9],[19.8,93.8],[20.6,86.2],[21.5,76.5],[22.4,70.8],[23.3,59.2],[24.2,47.7],[25,40],[25.9,30.4],[26.8,22.7],[27.7,16.9],[28.9,11.2],[30.3,7.3],[32.1,3.5],[33.9,0.6],[37.4,0],[100,0]];
const ab_JURKAT_5E7=[[0,99.6],[0.7,43.8],[1.8,41.9],[3,38.1],[4.2,41.9],[5.6,45.8],[7.1,51.5],[8.3,61.2],[9.2,65],[10.1,72.7],[10.9,76.5],[11.8,78.5],[12.7,80.4],[13.6,86.2],[14.5,88.1],[15.3,91.9],[16.2,86.2],[17.1,93.8],[18,93.8],[18.9,88.1],[19.8,90],[20.6,84.2],[21.5,74.6],[22.4,66.9],[23.3,57.3],[24.2,45.8],[25,36.2],[25.9,28.5],[26.8,20.8],[27.7,15],[28.9,9.2],[30.3,5.8],[32.1,2.5],[33.9,0.4],[37.4,0],[100,0]];
const iso_JURKAT_5H2=[[0.3,43],[0.9,43.8],[2.3,40],[3.5,41.9],[4.8,40],[6.2,43.8],[7.1,55.4],[8.3,65],[9.3,66.9],[10.6,78.5],[11.5,80.4],[12.3,82.3],[13.2,86.2],[14.1,88.1],[15,91.9],[15.9,86.2],[16.8,90],[17.6,93.8],[18.5,93.8],[19.4,91.9],[20.3,88.1],[21.2,78.5],[22,74.6],[22.9,65],[23.8,55.4],[24.7,43.8],[25.6,32.3],[26.5,22.7],[27.7,15],[29.1,8.3],[30.9,3.8],[32.6,1.5],[34.4,0],[100,0]];
const ab_JURKAT_5H2=[[0,99.6],[0.9,42.9],[2.3,39],[3.5,40],[4.8,39],[6.2,43.8],[7.1,55.4],[8.3,63.1],[9.3,66.9],[10.6,76.5],[11.5,79.4],[12.3,82.3],[13.2,84.2],[14.1,87.1],[15,91],[15.9,86.2],[16.8,88.1],[17.6,91.9],[18.5,93.8],[19.4,92.9],[20.3,84.2],[21.2,76.5],[22,72.7],[22.9,63.1],[23.8,53.5],[24.7,41.9],[25.6,30.4],[26.5,20.8],[27.7,13.1],[29.1,7.3],[30.9,3.5],[32.6,1.2],[34.4,0],[100,0]];
const iso_JURKAT_8G7=[[0.3,43],[0.5,43.8],[1.8,40],[2.8,42.9],[4.1,39],[5.3,43.8],[6.4,43.8],[7.6,55.4],[8.5,65],[9.4,66.9],[10.2,76.5],[11.1,80.4],[12,82.3],[12.9,86.2],[13.8,90],[14.7,91.9],[15.5,88.1],[16.4,91.9],[17.3,93.8],[18.2,93.8],[19.1,92.9],[20,93.8],[20.8,86.2],[21.7,78.5],[22.6,66.9],[23.5,55.4],[24.4,43.8],[25.3,32.3],[26.1,22.7],[27.2,15],[28.4,8.3],[29.7,3.8],[31.4,0.6],[33.2,0],[100,0]];
const ab_JURKAT_8G7=[[0,99.6],[0.5,9.2],[2.3,8.3],[4.1,9.2],[6.7,12.1],[8.5,13.1],[10.2,16.9],[12,24.6],[13.8,28.5],[14.7,32.3],[15.5,40],[16.4,43.8],[17.3,49.6],[18.2,55.4],[19.1,61.2],[20,65],[20.8,70.8],[21.4,82.3],[22.1,86.2],[22.6,74.6],[23.5,91.9],[24.4,93.8],[25.3,90],[26.1,93.8],[27,88.1],[27.9,90],[28.8,84.2],[29.7,86.2],[30.6,74.6],[31.4,70.8],[32.3,59.2],[33.2,51.5],[34.1,43.8],[35,40],[35.9,28.5],[36.7,22.7],[37.6,18.8],[38.5,15],[39.4,11.2],[40.3,7.3],[42,3.8],[43.8,1.5],[45.6,0],[100,0]];
const iso_JURKAT_12B12=[[0.4,0],[3.9,1.5],[6.5,5.4],[8.2,13.1],[9.5,20.8],[10.9,36.2],[12.3,55.4],[13.2,74.6],[14,78.5],[14.9,88.1],[15.8,93.8],[16.7,88.1],[17.5,86.2],[18.4,74.6],[19.3,59.2],[20.2,40],[21.1,26.5],[21.9,16.9],[23.2,9.2],[24.6,3.8],[25.8,1.5],[27.5,0],[100,0]];
const ab_JURKAT_12B12=[[0.4,0],[7.4,0.2],[10,1.5],[11.8,5.4],[13.5,13.1],[14.7,20.8],[16.1,28.5],[17.4,40],[18.4,59.2],[19.3,70.8],[20.2,78.5],[21.1,84.2],[21.9,90],[22.8,91.9],[23.5,93.8],[24.2,82.3],[25.3,74.6],[26.1,72.7],[27,65],[28.1,57.3],[28.9,51.5],[29.8,47.7],[30.7,41.9],[31.6,36.2],[32.8,32.3],[34,26.5],[35.1,22.7],[36.3,18.8],[37.5,15],[38.9,11.2],[40.4,7.3],[41.6,3.8],[43.3,1.5],[46,0],[100,0]];

// grid lookup built from the arrays above (rows = cell lines, columns = antibodies)
const ISO = [
 [iso_A549_5E7,iso_A549_5H2,iso_A549_8G7,iso_A549_12B12],
 [iso_BT474_5E7,iso_BT474_5H2,iso_BT474_8G7,iso_BT474_12B12],
 [iso_SKBR3_5E7,iso_SKBR3_5H2,iso_SKBR3_8G7,iso_SKBR3_12B12],
 [iso_PCI1_5E7,iso_PCI1_5H2,iso_PCI1_8G7,iso_PCI1_12B12],
 [iso_RCC_5E7,iso_RCC_5H2,iso_RCC_8G7,iso_RCC_12B12],
 [iso_MEL_5E7,iso_MEL_5H2,iso_MEL_8G7,iso_MEL_12B12],
 [iso_MG63_5E7,iso_MG63_5H2,iso_MG63_8G7,iso_MG63_12B12],
 [iso_TC71_5E7,iso_TC71_5H2,iso_TC71_8G7,iso_TC71_12B12],
 [iso_JURKAT_5E7,iso_JURKAT_5H2,iso_JURKAT_8G7,iso_JURKAT_12B12]
];
const AB = [
 [ab_A549_5E7,ab_A549_5H2,ab_A549_8G7,ab_A549_12B12],
 [ab_BT474_5E7,ab_BT474_5H2,ab_BT474_8G7,ab_BT474_12B12],
 [ab_SKBR3_5E7,ab_SKBR3_5H2,ab_SKBR3_8G7,ab_SKBR3_12B12],
 [ab_PCI1_5E7,ab_PCI1_5H2,ab_PCI1_8G7,ab_PCI1_12B12],
 [ab_RCC_5E7,ab_RCC_5H2,ab_RCC_8G7,ab_RCC_12B12],
 [ab_MEL_5E7,ab_MEL_5H2,ab_MEL_8G7,ab_MEL_12B12],
 [ab_MG63_5E7,ab_MG63_5H2,ab_MG63_8G7,ab_MG63_12B12],
 [ab_TC71_5E7,ab_TC71_5H2,ab_TC71_8G7,ab_TC71_12B12],
 [ab_JURKAT_5E7,ab_JURKAT_5H2,ab_JURKAT_8G7,ab_JURKAT_12B12]
];

// ---------- layout ----------
const colX = [11, 221, 373, 593, 811, 1031, 1251];
const headTop = 15, headBot = 52.5, rowH = 191.4;
const frameL = [389, 608, 827, 1046], frameW = 189;
const shadeDark = [false,false,false,false,false,true,false,false,true];
const rowLine = k => headBot + k * rowH;

function box(l, t, w, h, style) {
  const d = document.createElement('div');
  d.className = 'box';
  d.style.left = l + 'px'; d.style.top = t + 'px';
  d.style.width = w + 'px'; d.style.height = h + 'px';
  Object.assign(d.style, style || {});
  document.body.appendChild(d);
  return d;
}
function text(str, l, t, bold) {
  const d = document.createElement('div');
  d.className = 'txt' + (bold ? ' hdr' : '');
  d.style.left = l + 'px'; d.style.top = t + 'px';
  d.textContent = str;
  document.body.appendChild(d);
}

// backgrounds
box(colX[0], headTop, colX[6] - colX[0], headBot - headTop, {background:'#d9d9d9'});
for (let r = 0; r < 9; r++) {
  box(colX[0], rowLine(r), colX[2] - colX[0], rowH, {background: shadeDark[r] ? '#d8d8d8' : '#f4f4f4'});
}

// texts
text(headerLabels[0], colX[0] + 14, headTop + 1.5, true);
text(headerLabels[1], colX[1] + 13, headTop + 1.5, true);
antibodies.forEach((a, c) => text(a, colX[c + 2] + 15, headTop + 1.5, true));
for (let r = 0; r < 9; r++) {
  text(tumorTypes[r], colX[0] + 14, rowLine(r) + 3.5, false);
  text(cellLines[r], colX[1] + 13, rowLine(r) + 3.5, false);
}

// histogram frames + charts
function makeChart(canvas, iso, ab) {
  new Chart(canvas, {
    type: 'line',
    data: { datasets: [
      { label: 'Antikörper', data: ab.map(p => ({x: p[0], y: p[1]})), borderColor: 'rgb(38,72,255)', borderWidth: 1.2, fill: false, pointRadius: 0, tension: 0, order: 1 },
      { label: 'Isotyp', data: iso.map(p => ({x: p[0], y: p[1]})), borderColor: 'rgb(100,100,100)', backgroundColor: 'rgb(211,211,211)', borderWidth: 1, fill: 'origin', pointRadius: 0, tension: 0, order: 2 }
    ]},
    options: {
      responsive: false, animation: false, devicePixelRatio: 1, events: [],
      layout: { padding: 0 },
      plugins: { legend: { display: false }, tooltip: { enabled: false } },
      scales: {
        x: { type: 'linear', min: 0, max: 100, display: false },
        y: { type: 'linear', min: 0, max: 100, display: false }
      }
    }
  });
}

for (let r = 0; r < 9; r++) {
  const top = Math.round(rowLine(r) + 1.5);
  const bot = Math.round(rowLine(r + 1) - 1.5);
  for (let c = 0; c < 4; c++) {
    const fr = box(frameL[c], top, frameW, bot - top, {borderLeft:'1px solid #7a7a7a', borderTop:'1px solid #7a7a7a', borderRight:'1px solid #7a7a7a', background:'#fff'});
    const cv = document.createElement('canvas');
    const w = frameW - 2, h = bot - top - 1;
    cv.width = w; cv.height = h;
    cv.style.left = (frameL[c] + 1) + 'px';
    cv.style.top = (top + 1) + 'px';
    cv.style.width = w + 'px'; cv.style.height = h + 'px';
    document.body.appendChild(cv);
    makeChart(cv, ISO[r][c], AB[r][c]);
  }
}

// table lines on top
for (let i = 0; i < colX.length; i++) {
  box(colX[i] - 1, headTop - 1.5, 2, 1800, {background:'#000'});
}
box(colX[0] - 1, headTop - 1.5, colX[6] - colX[0] + 2, 3, {background:'#000'});
for (let k = 0; k <= 9; k++) {
  box(colX[0] - 1, rowLine(k) - 1.5, colX[6] - colX[0] + 2, 3, {background:'#000'});
}
</script>
</body></html>
